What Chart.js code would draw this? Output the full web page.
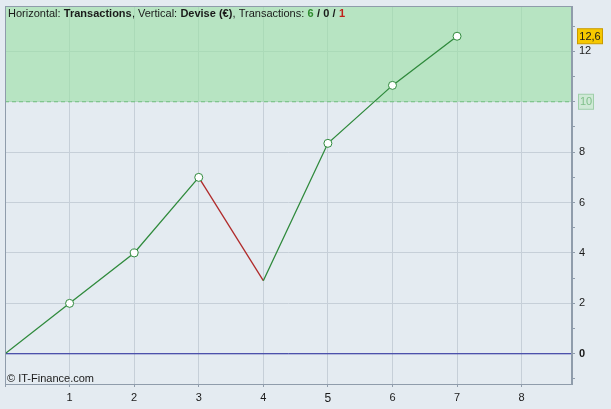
<!DOCTYPE html>
<html>
<head>
<meta charset="utf-8">
<script src="https://cdn.jsdelivr.net/npm/chart.js@4.4.0/dist/chart.umd.min.js"></script>
<style>
  html, body { margin: 0; padding: 0; background: #e4ebf1; }
  #wrap { width: 611px; height: 409px; }
</style>
</head>
<body>
<div id="wrap"><canvas id="chart" width="611" height="409"></canvas></div>
<script>
// trade number -> cumulative balance (€)
const trades = [0, 1, 2, 3, 4, 5, 6, 7];
const balance = [0, 2, 4, 7, 2.9, 8.35, 10.65, 12.6];
const markerShown = [false, true, true, true, false, true, true, true];
const xTicks = [0, 1, 2, 3, 4, 5, 6, 7, 8];
const yTicks = [-1, 0, 1, 2, 3, 4, 5, 6, 7, 8, 9, 10, 11, 12, 13];
const targetLevel = 10;
const lastValueLabel = "12,6";
const stats = { won: 6, even: 0, lost: 1 };

const xMin = 0, xMax = 8.78;
const yMin = -1.2, yMax = 13.8;

const green = "#2f8a3c";
const red = "#b02a2a";
const gridColor = "#c6cfd8";
const axisColor = "#8f9cab";
const FONT = "Arial, 'Liberation Sans', sans-serif";

const points = trades.map((x, i) => ({ x, y: balance[i] }));

const frame = {
  id: "frame",
  beforeDraw(chart) {
    const { ctx, width, height } = chart;
    ctx.save();
    ctx.fillStyle = "#e4ebf1";
    ctx.fillRect(0, 0, width, height);
    ctx.restore();
  },
  afterDraw(chart) {
    const { ctx, chartArea: a, scales } = chart;
    const y = scales.y;
    ctx.save();
    ctx.strokeStyle = axisColor;
    ctx.lineWidth = 1;
    ctx.strokeRect(a.left + 0.5, a.top + 0.5, a.right - a.left - 1, a.bottom - a.top);

    // title line
    const parts = [
      ["Horizontal: ", "normal", "#1a1a1a"],
      ["Transactions", "bold", "#1a1a1a"],
      [", Vertical: ", "normal", "#1a1a1a"],
      ["Devise (€)", "bold", "#1a1a1a"],
      [", Transactions: ", "normal", "#1a1a1a"],
      [String(stats.won), "bold", "#2e8b2e"],
      [" / ", "bold", "#1a1a1a"],
      [String(stats.even), "bold", "#1a1a1a"],
      [" / ", "bold", "#1a1a1a"],
      [String(stats.lost), "bold", "#c0201a"]
    ];
    let tx = a.left + 3;
    ctx.textBaseline = "alphabetic";
    parts.forEach(([t, w, c]) => {
      ctx.font = w + " 11px " + FONT;
      ctx.fillStyle = c;
      ctx.fillText(t, tx, a.top + 11);
      tx += ctx.measureText(t).width + 0.2;
    });

    // copyright
    ctx.font = "11px " + FONT;
    ctx.fillStyle = "#1a1a1a";
    ctx.fillText("© IT-Finance.com", a.left + 2, a.bottom - 2);

    // target level label
    const ty = y.getPixelForValue(targetLevel);
    ctx.fillStyle = "#cfe9d6";
    ctx.strokeStyle = "#9fcfaa";
    ctx.fillRect(a.right + 6.5, ty - 7.5, 15, 15);
    ctx.strokeRect(a.right + 6.5, ty - 7.5, 15, 15);
    ctx.fillStyle = "#7fbf8a";
    ctx.textAlign = "center";
    ctx.textBaseline = "middle";
    ctx.fillText(String(targetLevel), a.right + 14, ty + 0.5);

    // last value label
    const ly = y.getPixelForValue(balance[balance.length - 1]);
    ctx.fillStyle = "#f6c800";
    ctx.strokeStyle = "#c99a00";
    ctx.fillRect(a.right + 5.5, ly - 7.5, 25, 15);
    ctx.strokeRect(a.right + 5.5, ly - 7.5, 25, 15);
    ctx.fillStyle = "#1a1a1a";
    ctx.font = "11px " + FONT;
    ctx.fillText(lastValueLabel, a.right + 18, ly + 0.5);
    ctx.restore();
  }
};

new Chart(document.getElementById("chart"), {
  type: "line",
  data: {
    datasets: [
      {
        data: [{ x: xMin, y: targetLevel }, { x: xMax, y: targetLevel }],
        borderColor: "#6fbf7e",
        borderWidth: 1,
        borderDash: [4, 3],
        backgroundColor: "rgba(155, 224, 165, 0.62)",
        fill: "end",
        pointRadius: 0,
        order: 3
      },
      {
        data: [{ x: xMin, y: 0 }, { x: xMax, y: 0 }],
        borderColor: "#23279c",
        borderWidth: 1,
        pointRadius: 0,
        order: 2
      },
      {
        data: points,
        borderColor: green,
        borderWidth: 1.3,
        segment: {
          borderColor: c => c.p1.parsed.y < c.p0.parsed.y ? red : green
        },
        pointRadius: markerShown.map(m => m ? 4 : 0),
        pointBackgroundColor: "#ffffff",
        pointBorderColor: green,
        pointBorderWidth: 1,
        tension: 0,
        order: 1
      }
    ]
  },
  options: {
    responsive: false,
    animation: false,
    events: [],
    layout: { padding: { left: 5, top: 6, right: 0, bottom: 0 } },
    plugins: { legend: { display: false }, tooltip: { enabled: false } },
    scales: {
      x: {
        type: "linear",
        min: xMin,
        max: xMax,
        afterBuildTicks: s => { s.ticks = xTicks.map(v => ({ value: v })); },
        afterFit: s => { s.height = 25; s.paddingLeft = 0; s.paddingRight = 0; },
        grid: { color: gridColor, tickLength: 3, tickColor: axisColor },
        border: { color: axisColor },
        ticks: {
          color: "#1a1a1a",
          padding: 4,
          font: c => ({ family: FONT, size: c.tick && c.tick.value === 5 ? 12 : 11 }),
          callback: v => v === 0 ? "" : String(v)
        }
      },
      y: {
        position: "right",
        min: yMin,
        max: yMax,
        afterBuildTicks: s => { s.ticks = yTicks.map(v => ({ value: v })); },
        afterFit: s => { s.width = 39; s.paddingTop = 0; s.paddingBottom = 0; },
        grid: {
          color: c => c.tick && c.tick.value % 2 === 0 ? gridColor : "rgba(0,0,0,0)",
          tickLength: 3,
          tickColor: axisColor
        },
        border: { color: axisColor },
        ticks: {
          color: "#1a1a1a",
          padding: 4,
          font: c => ({ family: FONT, size: 11, weight: c.tick && c.tick.value === 0 ? "bold" : "normal" }),
          callback: v => (v % 2 === 0 && v !== targetLevel) ? String(v) : ""
        }
      }
    }
  },
  plugins: [frame]
});
</script>
</body>
</html>
